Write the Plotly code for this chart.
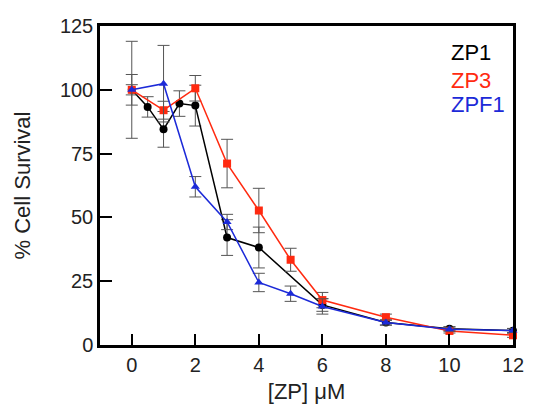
import plotly.graph_objects as go

# ZP1 (black circles)
zp1_x = [0, 0.5, 1, 1.5, 2, 3, 4, 6, 8, 10, 12]
zp1_y = [100, 93.3, 84.5, 94.6, 93.8, 42.1, 38.2, 15.7, 8.8, 6.4, 5.6]
zp1_err = [19, 4, 7, 5, 8, 7, 8, 2.5, 1, 0.8, 0.8]

# ZP3 (red squares)
zp3_x = [0, 1, 2, 3, 4, 5, 6, 8, 10, 12]
zp3_y = [100, 92, 100.6, 71.1, 52.7, 33.4, 17.6, 10.9, 5.5, 3.8]
zp3_err = [6, 3.5, 5, 9.5, 8.7, 4.5, 3, 1.2, 0.8, 0.8]

# ZPF1 (blue triangles)
zpf1_x = [0, 1, 2, 3, 4, 5, 6, 8, 10, 12]
zpf1_y = [100, 102.4, 62, 48.2, 24.5, 20.1, 15.1, 8.8, 6.2, 5.7]
zpf1_err = [2, 15, 4, 3, 3.6, 3, 3, 1, 0.8, 0.8]

x_ticks = [0, 2, 4, 6, 8, 10, 12]
y_ticks = [0, 25, 50, 75, 100, 125]

legend_names = ["ZP1", "ZP3", "ZPF1"]
legend_colors = ["#000000", "#ff2a10", "#1c2ad8"]
legend_y = [114.5, 103.8, 94.2]

FONT = "Liberation Sans, Arial, sans-serif"

fig = go.Figure()

def add_series(x, y, err, color, symbol, size):
    fig.add_trace(go.Scatter(
        x=x, y=y, mode="lines+markers",
        line=dict(color=color, width=1.5),
        marker=dict(color=color, symbol=symbol, size=size),
        error_y=dict(type="data", array=err, visible=True,
                     color="#555555", thickness=1, width=6),
        cliponaxis=False, showlegend=False,
    ))

add_series(zp1_x, zp1_y, zp1_err, legend_colors[0], "circle", 8)
add_series(zp3_x, zp3_y, zp3_err, legend_colors[1], "square", 8)
add_series(zpf1_x, zpf1_y, zpf1_err, legend_colors[2], "triangle-up", 8)

for name, color, yy in zip(legend_names, legend_colors, legend_y):
    fig.add_annotation(x=10, y=yy, xref="x", yref="y", text=name,
                       showarrow=False, xanchor="left", yanchor="middle",
                       font=dict(family=FONT, size=22, color=color))

axis_common = dict(showline=True, linecolor="black", linewidth=2.5, mirror=True,
                   ticks="inside", tickcolor="black", tickwidth=2,
                   showgrid=False, zeroline=False,
                   tickfont=dict(family=FONT, size=20, color="#222222"))

fig.update_xaxes(range=[-1, 12], tickvals=x_ticks, ticklen=11,
                 title=dict(text="[ZP] μM", font=dict(family=FONT, size=22, color="#222222"), standoff=9),
                 **axis_common)
fig.update_yaxes(range=[0, 125], tickvals=y_ticks, ticklen=12,
                 title=dict(text="% Cell Survival", font=dict(family=FONT, size=22, color="#222222"), standoff=24),
                 **axis_common)

fig.update_layout(width=536, height=412,
                  margin=dict(l=100, r=20, t=26, b=65),
                  paper_bgcolor="white", plot_bgcolor="white")

# remove the default 8px page margin so the figure sits at the window origin
fig.write_html("out.html",
               config={"displayModeBar": False},
               post_script="document.body.style.margin='0';document.body.style.overflow='hidden';")
